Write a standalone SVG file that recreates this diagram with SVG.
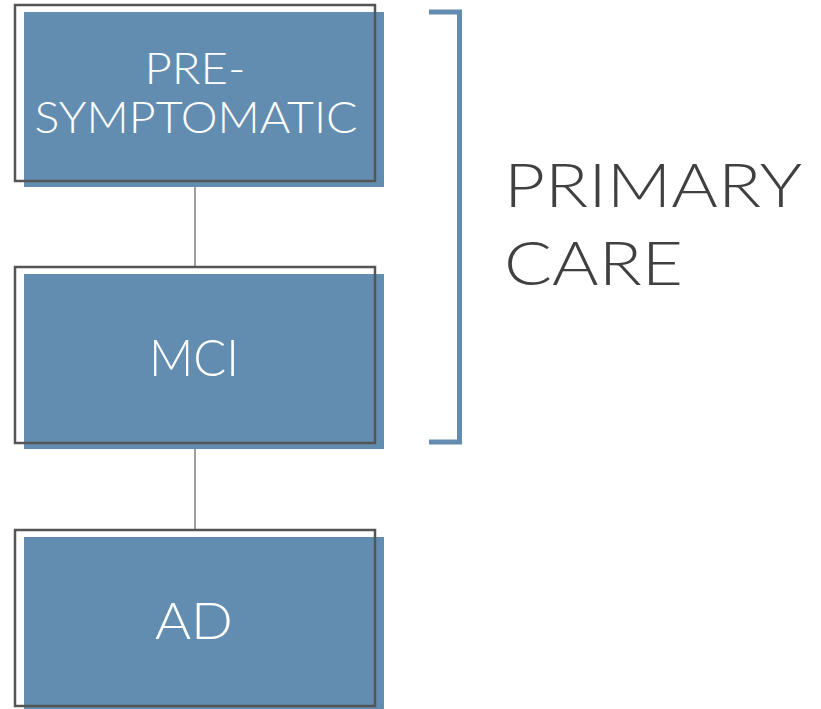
<svg xmlns="http://www.w3.org/2000/svg" width="821" height="709" viewBox="0 0 821 709">
<style>
.fill{fill:#628db0}
.frame{fill:none;stroke:#555;stroke-width:2.5}
.lbl{font-family:Lato,"Open Sans","Liberation Sans",sans-serif;font-weight:300;fill:#fff;text-anchor:middle}
.side{font-family:Lato,"Open Sans","Liberation Sans",sans-serif;font-weight:300;fill:#404040;font-size:61px}
.conn{stroke:#808080;stroke-width:1.5;fill:none}
</style>
<rect width="821" height="709" fill="#fff"/>
<g id="connectors">
<line class="conn" x1="195" y1="181" x2="195" y2="267"/>
<line class="conn" x1="195" y1="443" x2="195" y2="529"/>
</g>
<g id="node-presymptomatic">
<rect class="fill" x="24" y="12" width="360" height="175"/>
<rect class="frame" x="15" y="5" width="360" height="176"/>
<text class="lbl" x="195" y="84" font-size="43" textLength="101" lengthAdjust="spacingAndGlyphs">PRE-</text>
<text class="lbl" x="196" y="133" font-size="43" textLength="323" lengthAdjust="spacingAndGlyphs">SYMPTOMATIC</text>
</g>
<g id="node-mci">
<rect class="fill" x="24" y="274" width="360" height="175"/>
<rect class="frame" x="15" y="267" width="360" height="176"/>
<text class="lbl" x="194" y="376" font-size="52" textLength="90" lengthAdjust="spacingAndGlyphs">MCI</text>
</g>
<g id="node-ad">
<rect class="fill" x="24" y="537" width="360" height="172"/>
<rect class="frame" x="15" y="530" width="360" height="176"/>
<text class="lbl" x="194" y="639" font-size="52" textLength="78" lengthAdjust="spacingAndGlyphs">AD</text>
</g>
<g id="bracket">
<path d="M429 12 H459.5 V442 H429" fill="none" stroke="#628db0" stroke-width="5"/>
<text class="side" x="504" y="207" textLength="298" lengthAdjust="spacingAndGlyphs">PRIMARY</text>
<text class="side" x="504" y="285" textLength="179" lengthAdjust="spacingAndGlyphs">CARE</text>
</g>
</svg>
